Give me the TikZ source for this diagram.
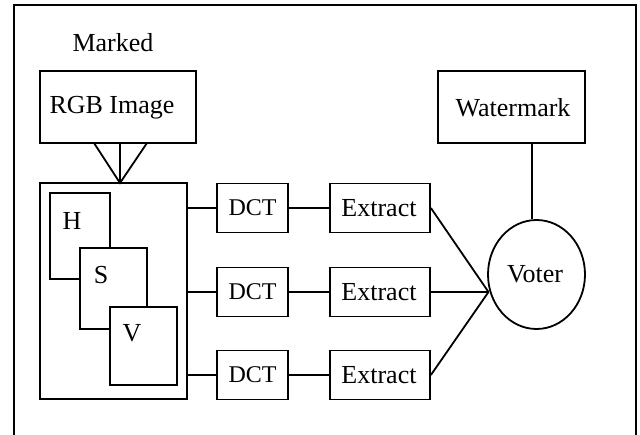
\documentclass[tikz,border=0pt]{standalone}
\usepackage{fontspec}
\setmainfont{Liberation Serif}
\usetikzlibrary{shapes.geometric}
\begin{document}
\begin{tikzpicture}[x=1pt,y=-1pt,line width=1.8pt,
  lbl/.style={font=\fontsize{26}{28}\selectfont,inner sep=0pt},
  dctlbl/.style={font=\fontsize{24}{26}\selectfont,inner sep=0pt},
]
\useasboundingbox (0,0) rectangle (640,435);
% open frame (no bottom edge)
\draw (14,436) -- (14,5) -- (636,5) -- (636,436);

\node[lbl] (marked) at (113,43) {Marked};

% RGB image and its HSV planes
\node[draw,minimum width=156pt,minimum height=72pt,inner sep=0pt] (rgb) at (118,107) {};
\node[lbl] (rgbt) at (112,108) {RGB Image};
\node[draw,minimum width=147pt,minimum height=216pt,inner sep=0pt] (hsv) at (113.5,291) {};
\coordinate (apex) at (120,183);
\coordinate (rgbl) at (94,143);
\coordinate (rgbm) at (120,143);
\coordinate (rgbr) at (147,143);
\draw (rgbl) -- (apex) -- (rgbr);
\draw (rgbm) -- (apex);

\node[draw,minimum width=60pt,minimum height=86pt,inner sep=0pt] (hbox) at (80,236) {};
\node[lbl] (hl) at (72,221) {H};
\node[draw,fill=white,minimum width=67pt,minimum height=81pt,inner sep=0pt] (sbox) at (113.5,288.5) {};
\node[lbl] (sl) at (101,275) {S};
\node[draw,fill=white,minimum width=67pt,minimum height=78pt,inner sep=0pt] (vbox) at (143.5,346) {};
\node[lbl] (vl) at (132,333) {V};

% three DCT / extract chains
\foreach \i/\y in {1/208,2/292,3/375}{
  \node[draw,minimum width=71pt,minimum height=49pt,inner sep=0pt] (dct\i) at (252.5,\y) {};
  \node[dctlbl] (dctt\i) at (252.5,\y) {DCT};
  \node[draw,minimum width=100pt,minimum height=49pt,inner sep=0pt] (ext\i) at (380,\y) {};
  \node[lbl] (extt\i) at (379,\y) {Extract};
  \draw (hsv.east |- dct\i.west) -- (dct\i.west);
  \draw (dct\i.east) -- (ext\i.west);
}

% voter and watermark
\node[draw,ellipse,minimum width=97pt,minimum height=109pt,inner sep=0pt] (voter) at (536.5,274.5) {};
\node[lbl] (votert) at (535,274) {Voter};
\coordinate (join) at (488.5,292);
\foreach \i in {1,2,3}{\draw (ext\i.east) -- (join);}

\node[draw,minimum width=147pt,minimum height=72pt,inner sep=0pt] (wm) at (511.5,107) {};
\node[lbl] (wmt) at (513,108) {Watermark};
\coordinate (wmfoot) at (532,143);
\draw (wmfoot) -- (wmfoot |- voter.north);
\end{tikzpicture}
\end{document}
